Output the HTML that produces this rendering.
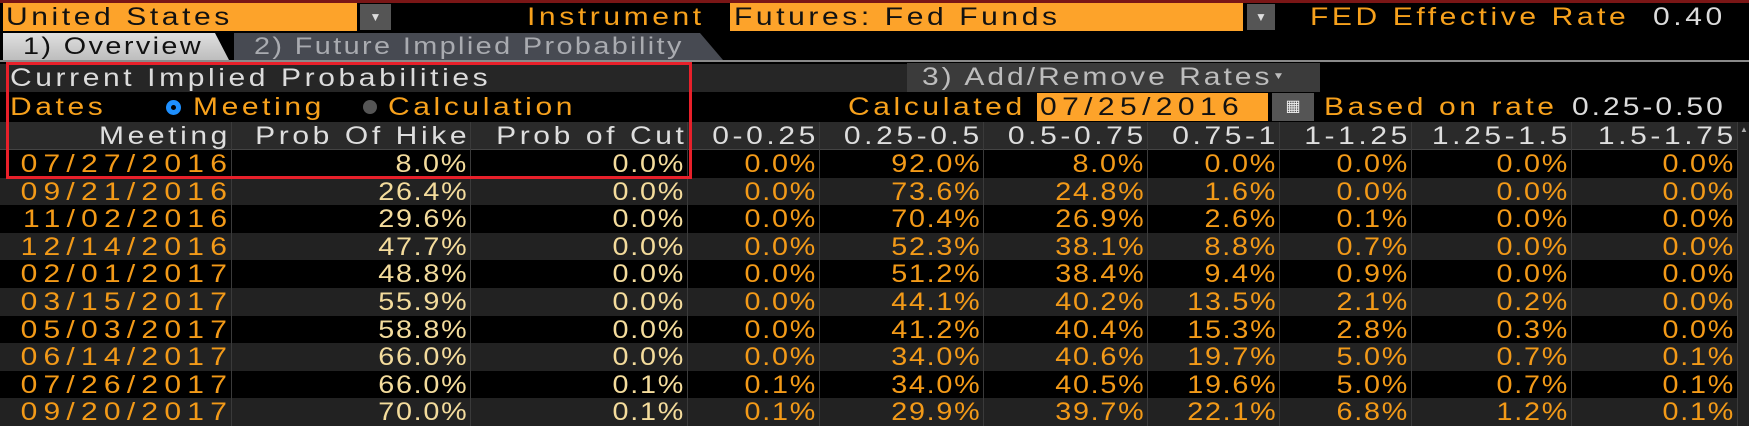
<!DOCTYPE html>
<html><head><meta charset="utf-8"><style>
*{margin:0;padding:0;box-sizing:border-box}
body{width:1749px;height:426px;background:#000;position:relative;overflow:hidden;font-family:"Liberation Sans",sans-serif;font-size:25px;line-height:28px}
.a{position:absolute;white-space:nowrap}
.t{letter-spacing:3px;transform:scaleX(1.2);transform-origin:left center}
.s{display:inline-block;letter-spacing:3px;transform:scaleX(1.2);transform-origin:left center}
.o{color:#f7a11c}
.g{color:#dcdcdc}
.row{position:absolute;left:0;width:1738px;height:28px}
.c{position:absolute;top:0;height:28px;text-align:right;border-right:1px solid #3a3a3a;white-space:nowrap;padding-right:3px}
.c span{display:inline-block;transform-origin:right center}
.d span{letter-spacing:5.2px;transform:scaleX(1.2);margin-right:-5px}
.d{color:#f39a18}
.p span{letter-spacing:1.5px;transform:scaleX(1.15);margin-right:-1px}
.y{color:#f4dc9c}
.r{color:#f39a18}
.h{color:#dedede}
.h span{letter-spacing:3px;transform:scaleX(1.2);margin-right:-3px}
</style></head><body>
<div class="a" style="left:0;top:0;width:1749px;height:3px;background:#7a1616"></div>
<div class="a" style="left:3px;top:3px;width:354px;height:28px;background:#fda32a;color:#111;padding-left:3px"><span class="s">United States</span></div>
<div class="a" style="left:360px;top:4px;width:31px;height:26px;background:#555;color:#ddd;font-size:12px;text-align:center;line-height:26px">▼</div>
<div class="a o t" style="left:527px;top:3px">Instrument</div>
<div class="a" style="left:730px;top:3px;width:513px;height:28px;background:#fda32a;color:#111;padding-left:4px"><span class="s">Futures: Fed Funds</span></div>
<div class="a" style="left:1247px;top:4px;width:28px;height:26px;background:#555;color:#ddd;font-size:12px;text-align:center;line-height:26px">▼</div>
<div class="a o t" style="left:1310px;top:3px">FED Effective Rate</div>
<div class="a g t" style="left:1653px;top:3px">0.40</div>
<div class="a" style="left:3px;top:33px;width:226px;height:27px;background:linear-gradient(#e0e0e0,#bdbdbd);clip-path:polygon(0 0,212px 0,226px 100%,0 100%);color:#111;padding-left:20px;font-size:24px"><span class="s" style="letter-spacing:2px">1) Overview</span></div>
<div class="a" style="left:234px;top:33px;width:489px;height:27px;background:#474a52;clip-path:polygon(0 0,466px 0,489px 100%,0 100%);color:#a9abb0;padding-left:20px;font-size:24px"><span class="s" style="letter-spacing:2px">2) Future Implied Probability</span></div>
<div class="a" style="left:0;top:60px;width:1749px;height:2px;background:#8a8a8a"></div>
<div class="a" style="left:0;top:64px;width:907px;height:28px;background:#262626"></div>
<div class="a g t" style="left:10px;top:64px">Current Implied Probabilities</div>
<div class="a" style="left:907px;top:63px;width:413px;height:29px;background:#3b3b3b;color:#bdbdbd;padding-left:15px"><span class="s" style="letter-spacing:2.5px">3) Add/Remove Rates<span style="font-size:10px;letter-spacing:0;vertical-align:top">▼</span></span></div>
<div class="a o t" style="left:10px;top:93px">Dates</div>
<div class="a" style="left:166px;top:100px;width:15px;height:15px;border-radius:50%;background:#1e90ff;border:3px solid #1e90ff"><div style="width:5px;height:5px;margin:2px;background:#000;border-radius:50%"></div></div>
<div class="a o t" style="left:193px;top:93px">Meeting</div>
<div class="a" style="left:363px;top:100px;width:14px;height:14px;border-radius:50%;background:#555"></div>
<div class="a o t" style="left:388px;top:93px">Calculation</div>
<div class="a o t" style="left:848px;top:93px">Calculated</div>
<div class="a" style="left:1037px;top:93px;width:231px;height:28px;background:#fda32a;color:#111;padding-left:3px"><span class="s" style="letter-spacing:4.5px">07/25/2016</span></div>
<div class="a" style="left:1272px;top:93px;width:42px;height:28px;background:#555;color:#eee;font-size:16px;text-align:center">▦</div>
<div class="a o t" style="left:1324px;top:93px">Based on rate</div>
<div class="a g t" style="left:1572px;top:93px;letter-spacing:2.5px">0.25-0.50</div>
<div class="row" style="top:122px;background:#2a2a2a;border-bottom:1px solid #444">
<div class="c h" style="left:0;width:232px"><span>Meeting</span></div><div class="c h" style="left:232px;width:239px"><span>Prob Of Hike</span></div><div class="c h" style="left:471px;width:217px"><span>Prob of Cut</span></div><div class="c h" style="left:688px;width:132px"><span>0-0.25</span></div><div class="c h" style="left:820px;width:164px"><span>0.25-0.5</span></div><div class="c h" style="left:984px;width:164px"><span>0.5-0.75</span></div><div class="c h" style="left:1148px;width:132px"><span>0.75-1</span></div><div class="c h" style="left:1280px;width:132px"><span>1-1.25</span></div><div class="c h" style="left:1412px;width:160px"><span>1.25-1.5</span></div><div class="c h" style="left:1572px;width:166px"><span>1.5-1.75</span></div>
</div>
<div id="rows"></div>
<div class="a" style="left:1738px;top:122px;width:11px;height:304px;background:#222"><div style="margin:4px 2px;color:#aaa;font-size:8px;line-height:8px">▲</div></div>
<div class="a" style="left:6px;top:62px;width:686px;height:117px;border:3px solid #e8202a"></div>
<script>
var D=[["07/27/2016",8.0,0.0,0.0,92.0,8.0,0.0,0.0,0.0,0.0],["09/21/2016",26.4,0.0,0.0,73.6,24.8,1.6,0.0,0.0,0.0],["11/02/2016",29.6,0.0,0.0,70.4,26.9,2.6,0.1,0.0,0.0],["12/14/2016",47.7,0.0,0.0,52.3,38.1,8.8,0.7,0.0,0.0],["02/01/2017",48.8,0.0,0.0,51.2,38.4,9.4,0.9,0.0,0.0],["03/15/2017",55.9,0.0,0.0,44.1,40.2,13.5,2.1,0.2,0.0],["05/03/2017",58.8,0.0,0.0,41.2,40.4,15.3,2.8,0.3,0.0],["06/14/2017",66.0,0.0,0.0,34.0,40.6,19.7,5.0,0.7,0.1],["07/26/2017",66.0,0.1,0.1,34.0,40.5,19.6,5.0,0.7,0.1],["09/20/2017",70.0,0.1,0.1,29.9,39.7,22.1,6.8,1.2,0.1]];
var B=[0,232,471,688,820,984,1148,1280,1412,1572,1738];
var h="";
D.forEach(function(r,i){h+='<div class="row" style="top:'+(150+i*27.6)+'px;background:'+(i%2?'#222':'#000')+'">';
r.forEach(function(v,j){var cls=j==0?'d':(j<3?'p y':'p r');var txt=j==0?v:v.toFixed(1)+'%';
h+='<div class="c '+cls+'" style="left:'+B[j]+'px;width:'+(B[j+1]-B[j])+'px"><span>'+txt+'</span></div>';});h+='</div>';});
document.getElementById('rows').innerHTML=h;
</script>
</body></html>
